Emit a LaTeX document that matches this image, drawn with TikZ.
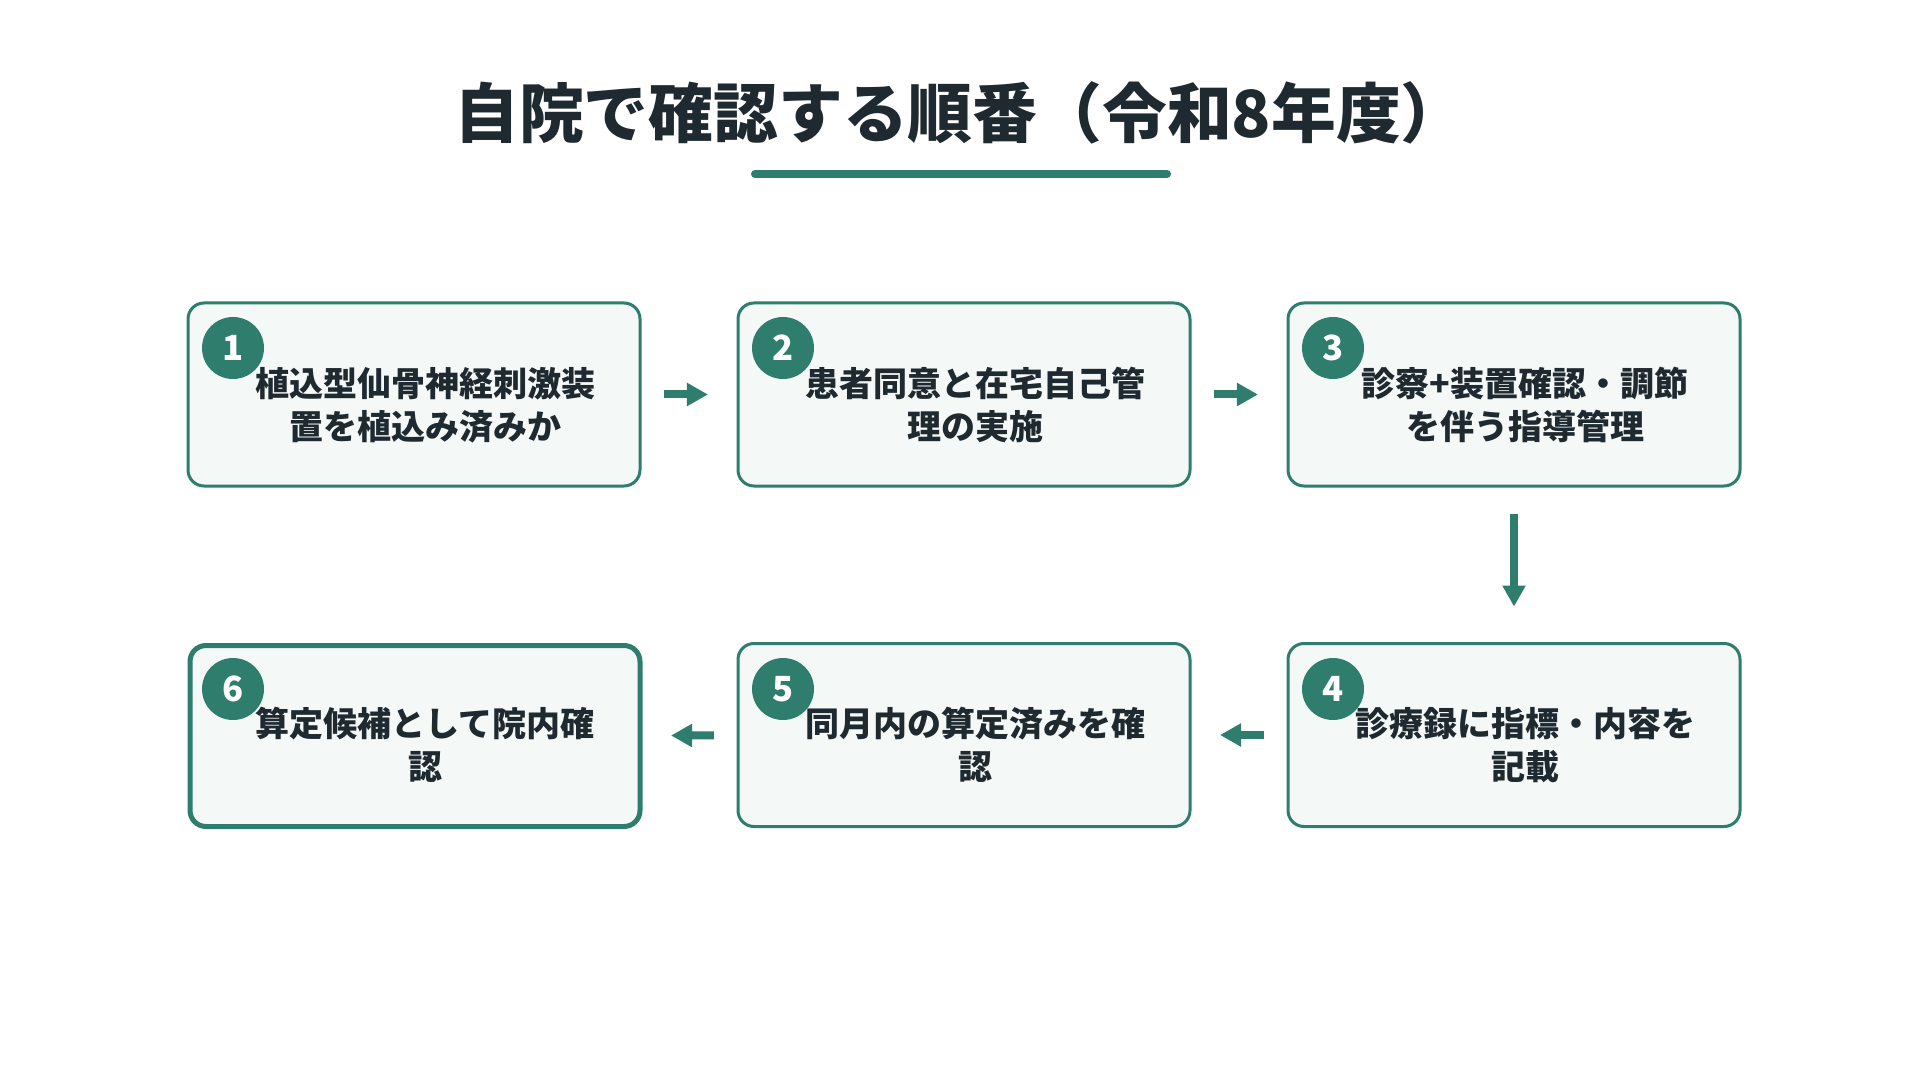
\documentclass[tikz,border=0pt]{standalone}
\usepackage{fontspec}
\newfontfamily\jp{Noto Sans CJK JP}[BoldFont=* Black]
\usetikzlibrary{arrows.meta}
\definecolor{tg}{HTML}{2E7D6D}
\definecolor{tx}{HTML}{1F2A30}
\definecolor{bf}{HTML}{F4F8F7}
\begin{document}
\begin{tikzpicture}[x=0.75pt,y=-0.75pt,
  box/.style={draw=tg, line width=2.25pt, fill=bf, rounded corners=12pt,
    minimum width=339pt, minimum height=137.25pt, inner sep=0pt, anchor=north west},
  boxlast/.style={box, line width=3.75pt, minimum width=337.5pt, minimum height=135.75pt},
  num/.style={circle, fill=tg, text=white, minimum size=46.5pt, inner sep=0pt,
    font=\jp\bfseries\fontsize{26pt}{26pt}\selectfont},
  txt/.style={text=tx, align=center, inner sep=0pt,
    font=\jp\bfseries\fontsize{25.5pt}{32.25pt}\selectfont},
  arr/.style={draw=tg, line width=6pt, -{Triangle[length=15.75pt,width=16.5pt]}},
  harr/.style={arr, shorten <=16.9pt, shorten >=21.4pt},
  varr/.style={arr, shorten <=19.9pt, shorten >=26.6pt}
]
\useasboundingbox[fill=white] (0,0) rectangle (1920,1080);

% title
\node[text=tx, inner sep=0pt, font=\jp\bfseries\fontsize{48.6pt}{48.6pt}\selectfont] (title) at (960,113) {自院で確認する順番（令和8年度）};
\coordinate (ulA) at (755,174);
\coordinate (ulB) at (1167,174);
\draw[tg, line width=6pt, line cap=round] (ulA) -- (ulB);

% boxes
\node[box] (b1) at (186.5,301.5) {};
\node[box] (b2) at (736.5,301.5) {};
\node[box] (b3) at (1286.5,301.5) {};
\node[box] (b4) at (1286.5,642) {};
\node[box] (b5) at (736.5,642) {};
\node[boxlast] (b6) at (187.5,643) {};

% numbers
\node[num] (n1) at (233,348) {1};
\node[num] (n2) at (783,348) {2};
\node[num] (n3) at (1333,348) {3};
\node[num] (n4) at (1333,689) {4};
\node[num] (n5) at (783,689) {5};
\node[num] (n6) at (233,689) {6};

% texts
\node[txt] (t1) at (425,405) {植込型仙骨神経刺激装\\置を植込み済みか};
\node[txt] (t2) at (975,405) {患者同意と在宅自己管\\理の実施};
\node[txt] (t3) at (1525,405) {診察+装置確認・調節\\を伴う指導管理};
\node[txt] (t4) at (1525,745) {診療録に指標・内容を\\記載};
\node[txt] (t5) at (975,745) {同月内の算定済みを確\\認};
\node[txt] (t6) at (425,745) {算定候補として院内確\\認};

% connectors
\draw[harr] (b1) -- (b2);
\draw[harr] (b2) -- (b3);
\draw[varr] (b3) -- (b4);
\draw[harr] (b4) -- (b5);
\draw[harr] (b5) -- (b6);
\end{tikzpicture}
\end{document}
